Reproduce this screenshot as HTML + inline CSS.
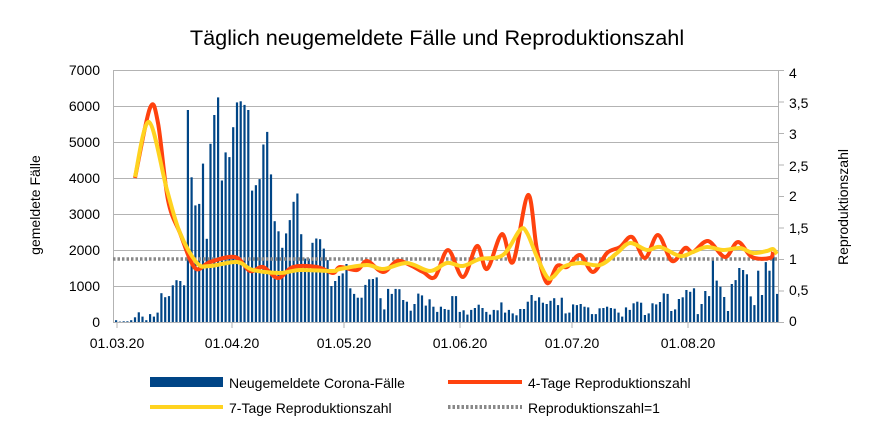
<!DOCTYPE html>
<html><head><meta charset="utf-8"><style>
body{margin:0;background:#fff;width:874px;height:422px;overflow:hidden}
text{font-family:"Liberation Sans",sans-serif;fill:#000}
</style></head><body>
<svg id="s" width="874" height="422" xmlns="http://www.w3.org/2000/svg">
<text x="437" y="45" font-size="21.7" text-anchor="middle">Täglich neugemeldete Fälle und Reproduktionszahl</text>
<g stroke="#b3b3b3" stroke-width="1">
<line x1="113" y1="70.5" x2="778" y2="70.5"/><line x1="113" y1="106.5" x2="778" y2="106.5"/>
<line x1="113" y1="142.5" x2="778" y2="142.5"/><line x1="113" y1="178.5" x2="778" y2="178.5"/>
<line x1="113" y1="214.5" x2="778" y2="214.5"/><line x1="113" y1="250.5" x2="778" y2="250.5"/>
<line x1="113" y1="286.5" x2="778" y2="286.5"/><line x1="113" y1="322.5" x2="778" y2="322.5"/>
<line x1="113.5" y1="70" x2="113.5" y2="322"/><line x1="778.5" y1="70" x2="778.5" y2="322"/>
<line x1="117" y1="322" x2="117" y2="328"/><line x1="232" y1="322" x2="232" y2="328"/>
<line x1="344" y1="322" x2="344" y2="328"/><line x1="460" y1="322" x2="460" y2="328"/>
<line x1="572" y1="322" x2="572" y2="328"/><line x1="688" y1="322" x2="688" y2="328"/>
<line x1="778" y1="70.5" x2="784" y2="70.5"/><line x1="778" y1="102" x2="784" y2="102"/>
<line x1="778" y1="133.5" x2="784" y2="133.5"/><line x1="778" y1="165" x2="784" y2="165"/>
<line x1="778" y1="196.5" x2="784" y2="196.5"/><line x1="778" y1="228" x2="784" y2="228"/>
<line x1="778" y1="259.5" x2="784" y2="259.5"/><line x1="778" y1="291" x2="784" y2="291"/>
<line x1="778" y1="322.5" x2="784" y2="322.5"/>
</g>
<g font-size="14" text-anchor="end">
<text x="100" y="75">7000</text><text x="100" y="111">6000</text><text x="100" y="147">5000</text>
<text x="100" y="183">4000</text><text x="100" y="219">3000</text><text x="100" y="255">2000</text>
<text x="100" y="291">1000</text><text x="100" y="327">0</text>
</g>
<g font-size="14">
<text x="789" y="78">4</text><text x="789" y="108">3,5</text><text x="789" y="139">3</text>
<text x="789" y="171">2,5</text><text x="789" y="201">2</text><text x="789" y="233">1,5</text>
<text x="789" y="264">1</text><text x="789" y="295">0,5</text><text x="789" y="326">0</text>
</g>
<g font-size="14" text-anchor="middle">
<text x="117" y="348">01.03.20</text><text x="232" y="348">01.04.20</text><text x="344" y="348">01.05.20</text>
<text x="460" y="348">01.06.20</text><text x="572" y="348">01.07.20</text><text x="688" y="348">01.08.20</text>
</g>
<text transform="translate(40,205) rotate(-90)" font-size="14" text-anchor="middle">gemeldete Fälle</text>
<text transform="translate(848,207) rotate(-90)" font-size="14" text-anchor="middle">Reproduktionszahl</text>
<g id="bars" fill="#004586"></g>
<line x1="113" y1="259" x2="778" y2="259" stroke="#888" stroke-width="3.5" stroke-dasharray="2.5,2"/>
<path id="red" fill="none" stroke="#ff420e" stroke-width="4" stroke-linejoin="round"/>
<path id="yel" fill="none" stroke="#ffd320" stroke-width="4" stroke-linejoin="round"/>
<rect x="150" y="377" width="73" height="10" fill="#004586"/>
<text x="229" y="388" font-size="14">Neugemeldete Corona-Fälle</text>
<line x1="448" y1="382" x2="522" y2="382" stroke="#ff420e" stroke-width="4"/>
<text x="528" y="388" font-size="14">4-Tage Reproduktionszahl</text>
<line x1="150" y1="407" x2="223" y2="407" stroke="#ffd320" stroke-width="4"/>
<text x="229" y="413" font-size="14">7-Tage Reproduktionszahl</text>
<line x1="448" y1="407" x2="522" y2="407" stroke="#888" stroke-width="4" stroke-dasharray="2.5,2"/>
<text x="528" y="413" font-size="14">Reproduktionszahl=1</text>
</svg>
<script>
var v=[50,10,20,20,50,130,270,150,50,220,150,260,800,690,720,1020,1160,1140,1020,5890,4020,3240,3280,4400,2310,4950,5750,6240,3930,4710,4580,5410,6100,6130,6030,5890,3650,3800,3970,4930,5280,4100,2800,2520,2060,2460,2830,3340,3570,2440,1760,1760,2200,2320,2300,2040,1720,1000,1140,1280,
1350,1610,935,780,675,675,1030,1185,1195,1240,660,350,920,780,920,910,610,565,315,500,790,740,455,630,425,280,425,360,340,720,720,280,325,205,335,390,480,390,280,205,335,325,545,260,335,240,185,360,360,565,750,590,685,535,500,590,660,470,675,240,260,490,470,500,425,405,220,220,380,390,425,390,370,260,150,405,335,520,565,535,195,240,520,490,555,795,780,305,350,640,685,890,840,935,220,500,860,720,1720,1150,980,695,305,1055,1165,1500,1445,1325,710,470,1425,750,1665,1425,1860,780];
var g=document.getElementById('bars'),h='',sp=(776-115)/(v.length-1);
for(var i=0;i<v.length;i++){var x=115+i*sp,hh=v[i]*0.036;h+='<rect x="'+x.toFixed(1)+'" y="'+(322-hh).toFixed(1)+'" width="2.2" height="'+hh.toFixed(1)+'"/>';}
g.innerHTML=h;
function cr(s){var a=s.trim().split(/\s+/).map(function(p){return p.split(',').map(Number)});
var d='M'+a[0][0]+','+a[0][1];
for(var i=0;i<a.length-1;i++){var p0=a[i-1]||a[i],p1=a[i],p2=a[i+1],p3=a[i+2]||p2;
d+=' C'+(p1[0]+(p2[0]-p0[0])/6).toFixed(1)+','+(p1[1]+(p2[1]-p0[1])/6).toFixed(1)+' '+(p2[0]-(p3[0]-p1[0])/6).toFixed(1)+','+(p2[1]-(p3[1]-p1[1])/6).toFixed(1)+' '+p2[0]+','+p2[1];}
return d;}
document.getElementById('red').setAttribute('d',cr("135,178 150,108 158,123 168,200 180,233 195,268 210,262 235,257 250,271 263,267 278,278 293,267 317,267 333,273 340,267 357,270 367,261 383,272 397,261 410,265 423,272 435,277 448,250 463,277 477,246 487,269 502,234 513,262 528,195 537,250 547,283 557,266 567,267 580,255 593,272 607,253 620,247 632,237 645,258 658,235 672,261 685,248 693,252 708,241 725,257 738,242 752,257 770,258 773,252"));
document.getElementById('yel').setAttribute('d',cr("135,177 149,122 167,190 180,233 197,263 210,266 237,262 253,270 280,273 300,270 333,271 340,269 367,265 383,269 407,263 430,271 447,263 463,266 480,259 503,255 520,230 527,233 537,257 547,277 553,277 563,267 580,263 600,265 617,253 630,243 647,250 660,247 680,256 693,252 707,247 723,250 740,248 753,253 767,251 773,249 777,254"));
</script>
</body></html>
